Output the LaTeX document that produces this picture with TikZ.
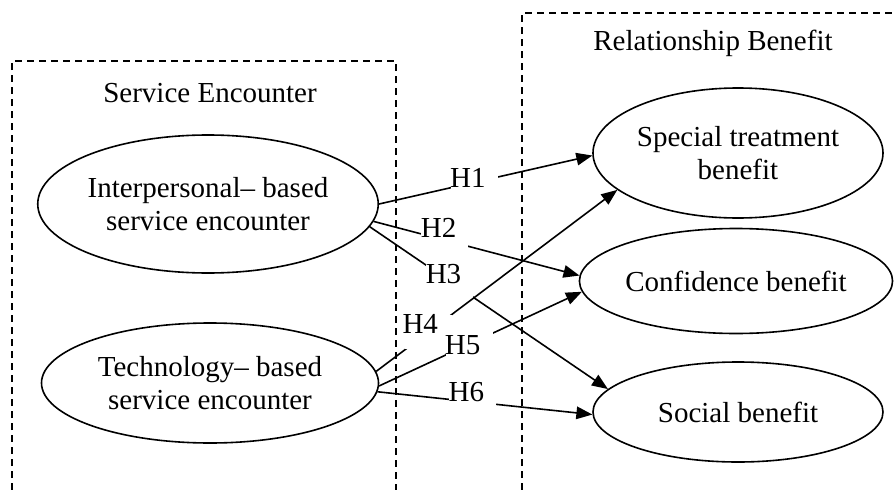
\documentclass[tikz,border=0pt]{standalone}
\usepackage{fontspec}
\setmainfont{Liberation Serif}
\usetikzlibrary{shapes.geometric,arrows.meta}
\begin{document}
\begin{tikzpicture}[x=1pt,y=-1pt,
  every node/.style={font=\fontsize{29}{32.5}\selectfont},
  oval/.style={draw, ellipse, line width=1.6pt, inner sep=0pt, align=center},
  frame/.style={line width=1.5pt, dash pattern=on 7pt off 5pt},
  link/.style={line width=1.6pt, -{Triangle[length=16pt,width=12.5pt]}},
  hgap/.style={fill=white, inner sep=0pt, minimum width=47pt, minimum height=34pt}]
\useasboundingbox (0,0) rectangle (895,490);
% frames
\draw[frame] (12,490) -- (12,61) -- (396,61) -- (396,490);
\draw[frame] (522,490) -- (522,13) -- (895,13);
\node[anchor=base] (t1) at (210,102) {Service Encounter};
\node[anchor=base] (t2) at (713,50) {Relationship Benefit};
% ellipses
\node[oval, minimum width=336pt, minimum height=138pt] (e1) at (208,204) {Interpersonal– based\\service encounter};
\node[oval, minimum width=337pt, minimum height=120pt] (e2) at (210,383) {Technology– based\\service encounter};
\node[oval, minimum width=290pt, minimum height=130pt] (e3) at (738,153) {Special treatment\\benefit};
\node[oval, minimum width=288pt, minimum height=105pt] (e4) at (736,281) {Confidence benefit};
\node[oval, minimum width=290pt, minimum height=100pt] (e5) at (738,412) {Social benefit};
% connectors
\draw[link] (e1.0) -- node[hgap, pos=0.449, label={[xshift=-7pt, yshift=4.5pt]center:H1}] (g1) {} (e3.181);
\draw[link] (e1.354.8) -- node[hgap, pos=0.345, label={[xshift=-6pt, yshift=12pt]center:H2}] (g2) {} (e4.178.4);
\draw[link] (e1.352.5) -- node[hgap, pos=0.335, label={[xshift=-6pt, yshift=7pt]center:H3}] (g3) {} (e5.170.2);
\draw[link] (e2.4.5) -- node[hgap, pos=0.216, label={[xshift=-8pt, yshift=8.5pt]center:H4}] (g4) {} (e3.197.7);
\draw[link] (e2.359) -- node[hgap, pos=0.444, label={[xshift=-6.5pt, yshift=-1.5pt]center:H5}] (g5) {} (e4.184.4);
\draw[link] (e2.357) -- node[hgap, pos=0.444, label={[xshift=-6.5pt, yshift=9.5pt]center:H6}] (g6) {} (e5.181.2);
\end{tikzpicture}
\end{document}
